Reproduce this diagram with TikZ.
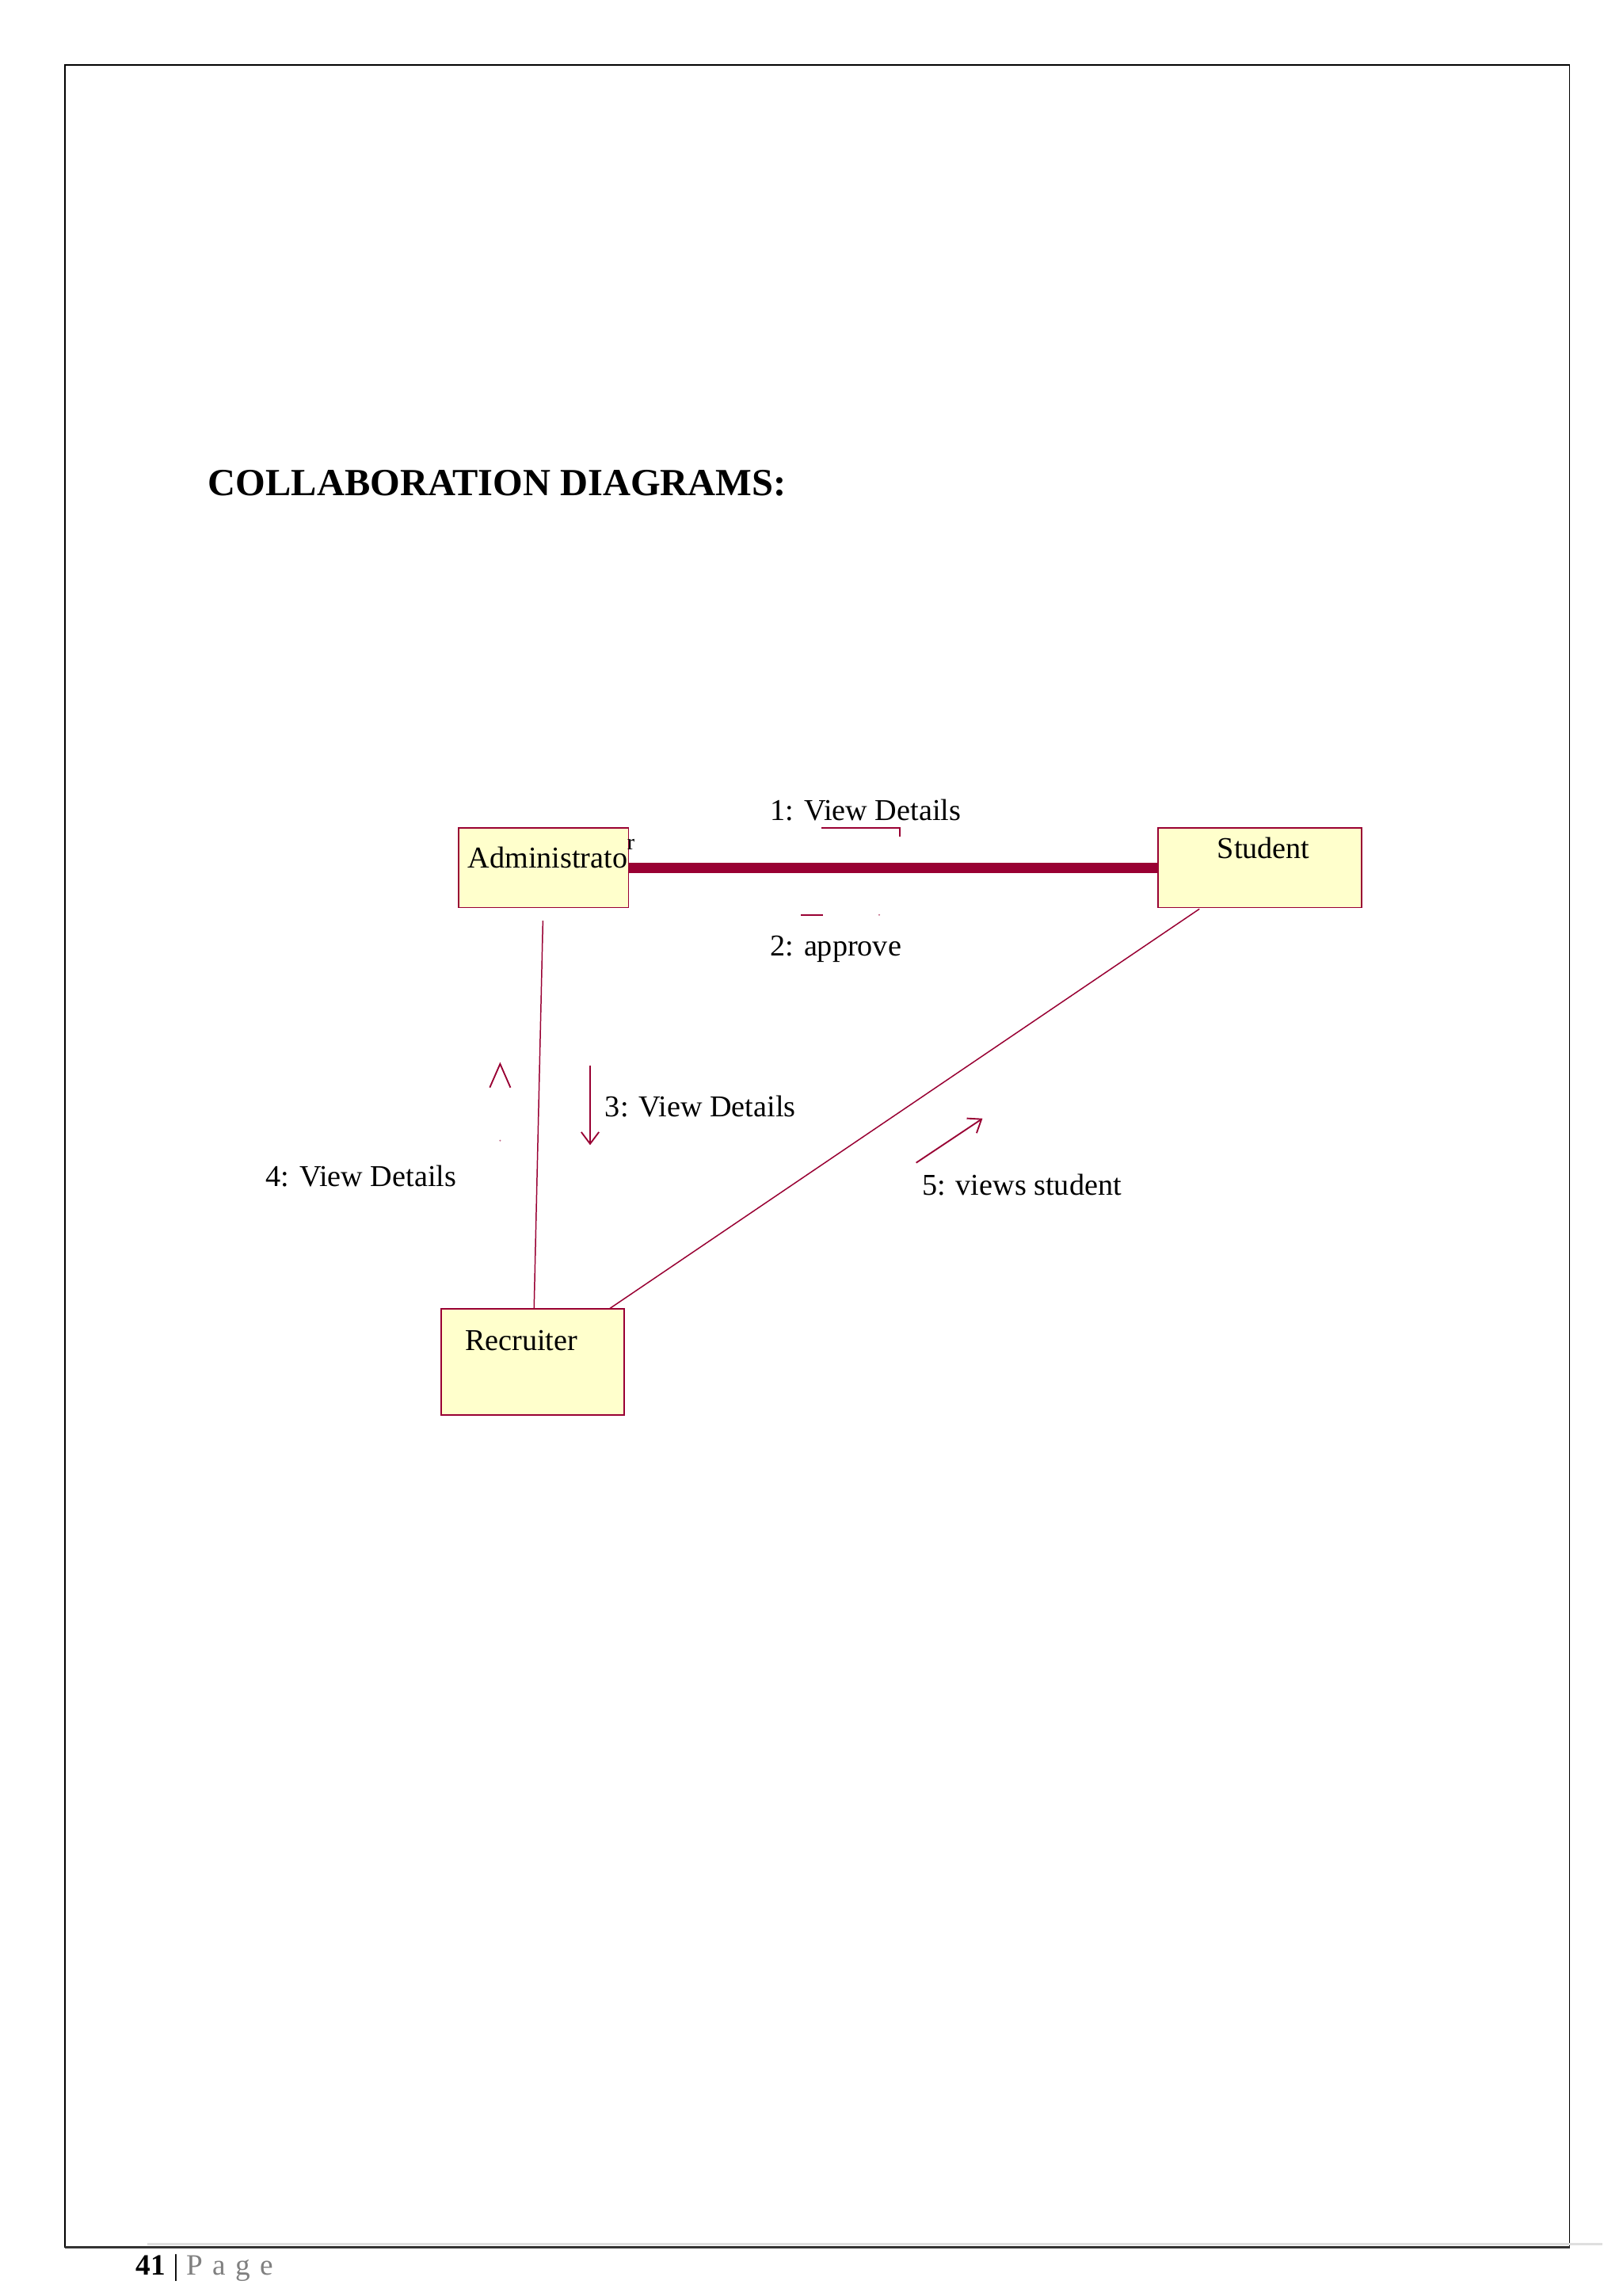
\documentclass[tikz,border=0pt]{standalone}
\usepackage{fontspec}
\setmainfont{Liberation Serif}
\usetikzlibrary{arrows.meta}
\definecolor{umlred}{HTML}{990033}
\definecolor{umlfill}{HTML}{FFFFCC}
\begin{document}
\begin{tikzpicture}[x=1pt,y=-1pt,
  obj/.style={draw=umlred,fill=umlfill,line width=0.8pt},
  lbl/.style={anchor=base west,inner sep=0,font=\fontsize{20.5}{24}\selectfont},
  link/.style={draw=umlred,line width=0.8pt},
  msg/.style={draw=umlred,line width=1pt,-{Straight Barb[length=8pt,width=12pt]}}]
\useasboundingbox[fill=white] (0,0) rectangle (1100,1556);
\draw[line width=0.8pt] (44,1523) -- (44,44) -- (1064,44) -- (1064,1523);
\draw[gray!25,line width=1.5pt] (100,1521) -- (1086,1521);
\draw[black!80,line width=1.5pt] (44,1523) -- (1064,1523);
\node[anchor=base west,inner sep=0,font=\bfseries\fontsize{26}{30}\selectfont] (title) at (141,336) {COLLABORATION DIAGRAMS:};
% objects
\path[obj] (311,561) rectangle (426,615);
\path[obj] (785,561) rectangle (923,615);
\path[obj] (299,887) rectangle (423,959);
\coordinate (admE) at (426,588);
\coordinate (stuW) at (785,588);
\node[lbl] (admin) at (317,588) {Administrato};
\node[lbl,font=\fontsize{15}{16}\selectfont] (adminr) at (425,576) {r};
\node[lbl] (student) at (825,582) {Student};
\node[lbl] (recruiter) at (315,915) {Recruiter};
% links
\draw[umlred,line width=7pt] (admE) -- (stuW);
\coordinate (a1) at (368,624); \coordinate (r1) at (362,887);
\draw[link] (a1) -- (r1);
\coordinate (s1) at (813,616); \coordinate (r2) at (413,887);
\draw[link] (s1) -- (r2);
% messages
\node[lbl] (m1) at (522,556) {1: View Details};
\draw[umlred,line width=0.8pt] (557,561) -- (610,561) -- (610,567);
\draw[umlred,line width=1pt] (543,620) -- (558,620);
\fill[umlred!60] (596,620) circle (0.6);
\node[lbl] (m2) at (522,648) {2: approve};
\draw[umlred,line width=1pt] (332,737) -- (339,721) -- (346,737);
\fill[umlred!60] (339,773) circle (0.6);
\coordinate (p3a) at (400,722); \coordinate (p3b) at (400,776);
\draw[msg] (p3a) -- (p3b);
\node[lbl] (m3) at (410,757) {3: View Details};
\node[lbl] (m4) at (180,804) {4: View Details};
\coordinate (p5a) at (621,788); \coordinate (p5b) at (666,758);
\draw[msg] (p5a) -- (p5b);
\node[lbl] (m5) at (625,810) {5: views student};
% footer
\node[anchor=base west,inner sep=0,font=\fontsize{20}{22}\selectfont] (foot) at (92,1542)
  {\textbf{41} | \textcolor{gray}{P\,\,a\,\,g\,\,e}};
\end{tikzpicture}
\end{document}
